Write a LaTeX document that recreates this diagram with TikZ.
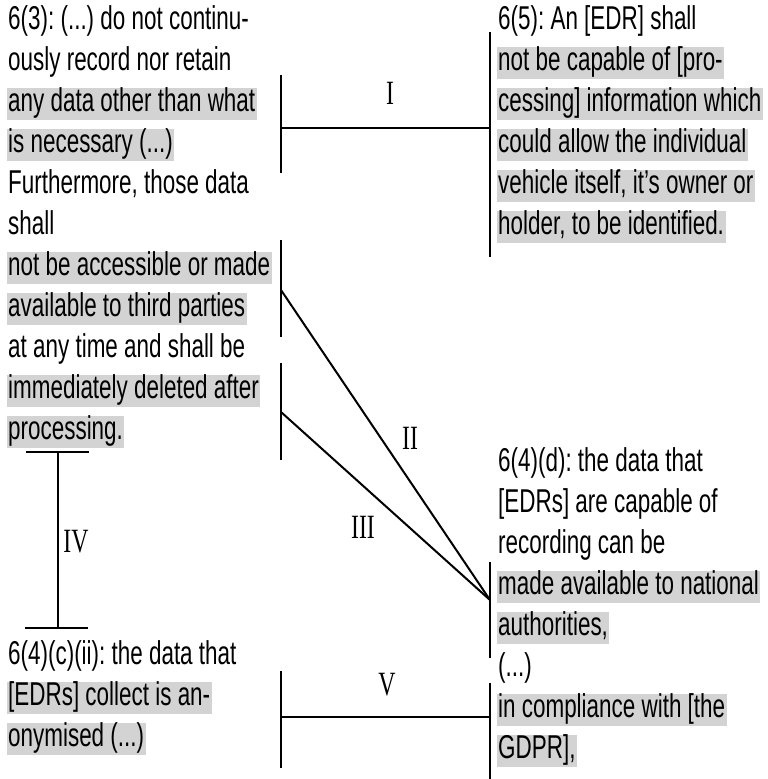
\documentclass[tikz,border=0pt]{standalone}
\usepackage{fontspec}
\setmainfont{Liberation Sans}[FakeStretch=0.68]
\newfontfamily\romfont{Liberation Serif}[FakeStretch=0.7]
\definecolor{hlgray}{RGB}{211,211,211}
\frenchspacing

\begin{document}
\begin{tikzpicture}[x=1pt, y=-1pt,
  txt/.style={anchor=west, inner xsep=1.5pt, inner ysep=0pt, text height=23.5pt, text depth=8.5pt, font=\fontsize{33}{38}\selectfont},
  hl/.style={txt, fill=hlgray},
  tick/.style={line width=2pt},
  link/.style={line width=2.8pt},
  rom/.style={font=\romfont\fontsize{34}{38}\selectfont}]
  \useasboundingbox (0,0) rectangle (768,779);
  % Article 6(3)
  \node[txt] (l1) at (6.5,22) {6(3): (...) do not continu-};
  \node[txt] (l2) at (6.5,63) {ously record nor retain};
  \node[hl] (l3) at (6.5,104) {any data other than what};
  \node[hl] (l4) at (6.5,145) {is necessary (...)};
  \node[txt] (l5) at (6.5,186) {Furthermore, those data};
  \node[txt] (l6) at (6.5,227) {shall};
  \node[hl] (l7) at (6.5,268) {not be accessible or made};
  \node[hl] (l8) at (6.5,309) {available to third parties};
  \node[txt] (l9) at (6.5,350) {at any time and shall be};
  \node[hl] (l10) at (6.5,391) {immediately deleted after};
  \node[hl] (l11) at (6.5,432) {processing.};
  % Article 6(5)
  \node[txt] (r1) at (496.5,22) {6(5): An [EDR] shall};
  \node[hl] (r2) at (496.5,63) {not be capable of [pro-};
  \node[hl] (r3) at (496.5,104) {cessing] information which};
  \node[hl] (r4) at (496.5,145) {could allow the individual};
  \node[hl] (r5) at (496.5,186) {vehicle itself, it’s owner or};
  \node[hl] (r6) at (496.5,227) {holder, to be identified.};
  % Article 6(4)(d)
  \node[txt] (d1) at (496.5,464) {6(4)(d): the data that};
  \node[txt] (d2) at (496.5,505) {[EDRs] are capable of};
  \node[txt] (d3) at (496.5,546) {recording can be};
  \node[hl] (d4) at (496.5,587) {made available to national};
  \node[hl] (d5) at (496.5,628) {authorities,};
  \node[txt] (d6) at (496.5,669) {(...)};
  \node[hl] (d7) at (496.5,710) {in compliance with [the};
  \node[hl] (d8) at (496.5,751) {GDPR],};
  % Article 6(4)(c)(ii)
  \node[txt] (c1) at (6.5,657) {6(4)(c)(ii): the data that};
  \node[hl] (c2) at (6.5,698) {[EDRs] collect is an-};
  \node[hl] (c3) at (6.5,739) {onymised (...)};
  % Brackets
  \draw[tick] (281,75) -- (281,173);
  \draw[tick] (490,32) -- (490,257);
  \draw[tick] (281,240) -- (281,337);
  \draw[tick] (281,363) -- (281,460);
  \draw[tick] (490,562) -- (490,658);
  \draw[tick] (281,671) -- (281,768);
  \draw[tick] (490,683) -- (490,779);
  \coordinate (Ia) at (281,128);
  \coordinate (Ib) at (490,128);
  \coordinate (IIa) at (281,290);
  \coordinate (IIIa) at (281,412);
  \coordinate (Dm) at (490,600);
  \coordinate (Va) at (281,717);
  \coordinate (Vb) at (490,717);
  \coordinate (IVa) at (58,452);
  \coordinate (IVb) at (58,628);
  % Links
  \draw[link] (Ia) -- (Ib);
  \draw[tick] (IIa) -- (Dm);
  \draw[tick] (IIIa) -- (Dm);
  \draw[link] (Va) -- (Vb);
  \draw[tick] (IVa) -- (IVb);
  \draw[link] (26,452) -- (89,452);
  \draw[link] (25,628) -- (88,628);
  % Labels
  \node[rom] (nI) at (390,93) {I};
  \node[rom] (nII) at (410,438) {II};
  \node[rom] (nIII) at (363,527) {III};
  \node[rom] (nIV) at (76,542) {IV};
  \node[rom] (nV) at (387,685) {V};
\end{tikzpicture}
\end{document}
